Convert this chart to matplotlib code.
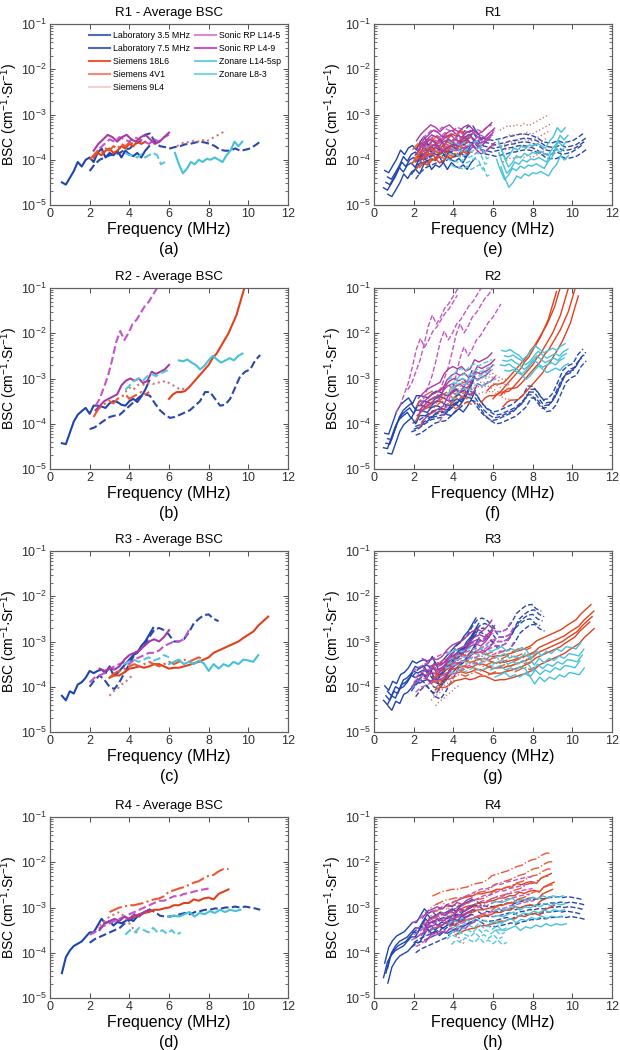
import numpy as np
import matplotlib
matplotlib.use("Agg")
import matplotlib.pyplot as plt
from matplotlib.lines import Line2D
from matplotlib.ticker import LogLocator, NullFormatter

plt.rcParams["font.family"] = ["Liberation Sans", "DejaVu Sans"]
plt.rcParams["mathtext.default"] = "regular"

# ── Transducers ────────────────────────────────────────────────
NAMES = ["Laboratory 3.5 MHz", "Laboratory 7.5 MHz", "Siemens 18L6",
         "Siemens 4V1", "Siemens 9L4", "Sonic RP L14-5", "Sonic RP L4-9",
         "Zonare L14-5sp", "Zonare L8-3"]
COLORS = ["#1f44b0", "#2a48aa", "#e2401c", "#e65a34", "#c87a78",
          "#c455c4", "#a83aa8", "#45c2d8", "#55c8e0"]
LEGEND_COLORS = ["#4a6cc4", "#5268c0", "#ee5a3a", "#f48a70", "#f4d0d0",
                 "#dc8ad4", "#c45ac0", "#6ad0ea", "#7ad6ec"]
STYLES = ["-", "--", "-", "-.", ":", "--", "-", "-", "--"]

# ── Average BSC, log10(cm^-1 Sr^-1), frequency span (MHz) ──────
R1_FREQ = [(0.6, 5.0), (2.0, 10.6), (2.2, 4.8), (2.0, 4.6), (6.4, 8.9),
           (2.5, 6.0), (2.2, 6.0), (6.3, 9.7), (3.8, 5.8)]
R1_BSC = [
    [-4.50, -4.55, -4.40, -4.25, -4.05, -4.15, -4.00, -3.95, -4.05, -3.85, -3.75, -3.95,
     -3.85, -3.90, -3.80, -3.95, -3.80, -3.88, -3.92, -3.85, -3.95, -3.80, -3.70],
    [-4.25, -4.10, -4.00, -3.95, -3.90, -3.88, -3.85, -3.78, -3.75, -3.65, -3.60, -3.45,
     -3.42, -3.60, -3.70, -3.72, -3.75, -3.72, -3.70, -3.66, -3.65, -3.62, -3.60, -3.62,
     -3.65, -3.70, -3.78, -3.80, -3.80, -3.75, -3.80, -3.78, -3.75, -3.68, -3.60],
    [-3.95, -3.85, -3.90, -3.80, -3.75, -3.85, -3.80, -3.70, -3.75, -3.65, -3.70, -3.60,
     -3.65, -3.60],
    [-4.00, -3.90, -3.80, -3.85, -3.75, -3.80, -3.70, -3.75, -3.65, -3.70, -3.62, -3.65,
     -3.58, -3.60],
    [-3.70, -3.65, -3.60, -3.62, -3.58, -3.60, -3.55, -3.60, -3.55, -3.50, -3.45, -3.40,
     -3.35],
    [-3.75, -3.65, -3.55, -3.60, -3.50, -3.55, -3.60, -3.50, -3.55, -3.60, -3.65, -3.55,
     -3.60, -3.50, -3.45],
    [-3.80, -3.65, -3.55, -3.45, -3.50, -3.60, -3.50, -3.45, -3.55, -3.60, -3.50, -3.45,
     -3.55, -3.65, -3.60, -3.50, -3.40],
    [-3.85, -4.10, -4.30, -4.20, -4.05, -4.10, -4.00, -4.05, -3.98, -4.00, -3.95, -4.00,
     -4.05, -3.90, -3.80, -3.60, -3.70, -3.60],
    [-3.85, -3.90, -3.90, -3.95, -3.88, -3.95, -3.90, -3.85, -3.90, -4.10, -4.05],
]

R2_FREQ = [(0.6, 5.0), (2.0, 10.6), (6.0, 9.8), (2.2, 5.0), (3.8, 6.8),
           (2.3, 5.4), (2.3, 6.0), (6.5, 9.7), (3.8, 6.0)]
R2_BSC = [
    [-4.43, -4.45, -4.20, -3.95, -3.80, -3.72, -3.65, -3.78, -3.60, -3.60, -3.62, -3.65,
     -3.55, -3.50, -3.52, -3.58, -3.60, -3.50, -3.45, -3.52, -3.40, -3.25, -3.05],
    [-4.12, -4.08, -4.00, -3.92, -3.85, -3.82, -3.80, -3.70, -3.60, -3.50, -3.40, -3.35,
     -3.38, -3.55, -3.70, -3.80, -3.87, -3.85, -3.80, -3.75, -3.70, -3.60, -3.50, -3.30,
     -3.30, -3.45, -3.60, -3.58, -3.45, -3.20, -2.95, -2.85, -2.80, -2.60, -2.48],
    [-3.45, -3.35, -3.30, -3.30, -3.28, -3.20, -3.10, -3.00, -2.90, -2.80, -2.70, -2.55,
     -2.45, -2.30, -2.15, -2.00, -1.80, -1.60, -1.30, -1.00],
    [-3.85, -3.70, -3.60, -3.55, -3.50, -3.55, -3.45, -3.40, -3.35, -3.45, -3.40, -3.35,
     -3.30, -3.35, -3.30],
    [-3.30, -3.20, -3.25, -3.15, -3.12, -3.15, -3.10, -3.12, -3.08, -3.10, -3.05, -3.10,
     -3.15, -3.20, -3.25, -3.22],
    [-3.60, -3.45, -3.20, -2.95, -2.60, -2.20, -1.95, -2.15, -2.00, -1.80, -1.70, -1.55,
     -1.40, -1.30, -1.15, -1.00],
    [-3.70, -3.60, -3.50, -3.45, -3.40, -3.35, -3.15, -3.05, -3.00, -3.05, -3.00, -3.10,
     -3.05, -2.85, -2.90, -2.85, -2.80, -2.70],
    [-2.60, -2.62, -2.58, -2.65, -2.70, -2.80, -2.72, -2.60, -2.50, -2.58, -2.65, -2.60,
     -2.55, -2.60, -2.50, -2.45],
    [-3.25, -3.15, -3.05, -3.00, -3.05, -2.95, -2.90, -2.95, -2.88, -2.85, -2.80],
]

R3_FREQ = [(0.6, 5.2), (2.0, 8.5), (3.0, 11.0), (3.0, 8.0), (3.0, 4.2),
           (2.0, 7.0), (2.5, 6.0), (6.0, 10.5), (3.7, 6.0)]
R3_BSC = [
    [-4.20, -4.30, -4.10, -4.15, -3.95, -3.90, -3.80, -3.65, -3.70, -3.65, -3.62, -3.70,
     -3.55, -3.75, -3.70, -3.60, -3.50, -3.40, -3.30, -3.25, -3.10, -3.00, -2.85, -2.70],
    [-4.00, -3.85, -3.75, -3.85, -4.00, -4.05, -3.90, -3.70, -3.50, -3.30, -3.20, -3.10,
     -2.90, -2.75, -2.70, -2.75, -2.85, -3.00, -3.00, -2.95, -2.80, -2.60, -2.50, -2.42,
     -2.40, -2.50, -2.55],
    [-3.80, -3.75, -3.75, -3.68, -3.60, -3.58, -3.55, -3.58, -3.55, -3.50, -3.50, -3.55,
     -3.60, -3.58, -3.58, -3.55, -3.52, -3.48, -3.45, -3.40, -3.35, -3.25, -3.20, -3.15,
     -3.10, -3.05, -3.00, -2.92, -2.85, -2.78, -2.65, -2.55, -2.45],
    [-3.80, -3.70, -3.65, -3.60, -3.55, -3.50, -3.55, -3.50, -3.45, -3.50, -3.55, -3.50,
     -3.45, -3.50, -3.45, -3.40, -3.45, -3.40, -3.35, -3.40, -3.35],
    [-4.20, -4.10, -4.05, -3.95, -3.90, -3.80, -3.75],
    [-3.90, -3.80, -3.75, -3.70, -3.60, -3.55, -3.50, -3.45, -3.50, -3.40, -3.35, -3.30,
     -3.25, -3.25, -3.20, -3.10, -3.05, -3.00, -3.00, -2.95, -2.75],
    [-3.60, -3.65, -3.60, -3.62, -3.55, -3.40, -3.30, -3.25, -3.20, -3.10, -3.00, -2.95,
     -3.00, -2.90, -2.75],
    [-3.50, -3.45, -3.40, -3.50, -3.45, -3.50, -3.42, -3.48, -3.65, -3.50, -3.60, -3.50,
     -3.55, -3.45, -3.50, -3.40, -3.42, -3.45, -3.30],
    [-3.50, -3.45, -3.40, -3.45, -3.40, -3.35, -3.42, -3.38, -3.30, -3.35],
]

R4_FREQ = [(0.6, 5.0), (2.0, 10.6), (4.0, 9.0), (3.0, 9.0), (2.5, 4.5),
           (2.0, 8.0), (2.5, 5.0), (6.0, 9.6), (3.8, 6.6)]
R4_BSC = [
    [-4.45, -4.10, -3.95, -3.85, -3.80, -3.75, -3.65, -3.55, -3.55, -3.40, -3.25, -3.35,
     -3.30, -3.40, -3.32, -3.35, -3.30, -3.25, -3.30, -3.20, -3.15, -3.10, -3.05],
    [-3.78, -3.70, -3.65, -3.60, -3.55, -3.50, -3.45, -3.35, -3.28, -3.20, -3.15, -3.10,
     -3.05, -3.10, -3.18, -3.20, -3.20, -3.18, -3.15, -3.12, -3.15, -3.10, -3.08, -3.05,
     -3.05, -3.02, -3.03, -3.00, -3.00, -2.98, -3.00, -2.98, -3.00, -3.02, -3.05],
    [-3.25, -3.20, -3.15, -3.12, -3.10, -3.05, -3.05, -3.02, -3.00, -2.95, -2.95, -2.90,
     -2.90, -2.82, -2.85, -2.80, -2.78, -2.82, -2.70, -2.65, -2.60],
    [-3.10, -3.05, -3.00, -2.98, -2.95, -2.95, -2.92, -2.90, -2.85, -2.82, -2.80, -2.75,
     -2.65, -2.62, -2.58, -2.55, -2.50, -2.45, -2.42, -2.35, -2.30, -2.28, -2.20, -2.15,
     -2.15],
    [-3.40, -3.30, -3.20, -3.15, -3.10, -3.20, -3.35, -3.50, -3.60],
    [-3.60, -3.55, -3.45, -3.40, -3.35, -3.30, -3.25, -3.20, -3.15, -3.10, -3.05, -3.00,
     -2.95, -2.90, -2.85, -2.85, -2.80, -2.75, -2.75, -2.70, -2.68, -2.65, -2.62, -2.60,
     -2.58],
    [-3.50, -3.35, -3.30, -3.25, -3.30, -3.20, -3.25, -3.15, -3.20, -3.10, -3.05],
    [-3.20, -3.18, -3.20, -3.15, -3.10, -3.20, -3.12, -3.15, -3.08, -3.12, -3.05, -3.10,
     -3.05, -3.08, -3.05],
    [-3.60, -3.50, -3.55, -3.45, -3.50, -3.55, -3.45, -3.55, -3.50, -3.58, -3.50, -3.60,
     -3.55],
]

# ── Individual acquisitions (right column): offsets from average ─
REP_DLOG = [-0.22, -0.10, 0.00, 0.10, 0.22]       # log10 offset per repeat
REP_DF = [0.10, -0.12, 0.00, 0.08, -0.06]         # MHz shift per repeat
R1_SPREAD = [1.2, 0.8, 1.0, 1.0, 1.6, 1.0, 1.0, 1.4, 1.2]
R2_SPREAD = [1.0, 0.6, 0.8, 1.0, 1.0, 1.6, 1.2, 1.0, 1.0]
R3_SPREAD = [1.0, 1.0, 1.2, 1.0, 1.0, 1.0, 1.0, 1.3, 1.0]
R4_SPREAD = [1.0, 1.0, 1.6, 1.6, 1.0, 1.2, 1.2, 1.4, 1.0]
R1_FSHIFT = [1, 1, 1, 1, 1, 1, 1, 1, 1]
R2_FSHIFT = [1, 1, 5, 1, 1, 10, 1, 1, 1]
R3_FSHIFT = [1, 1, 1, 1, 1, 1, 1, 1, 1]
R4_FSHIFT = [1, 1, 1, 1, 1, 1, 1, 1, 1]

REGIONS = ["R1", "R2", "R3", "R4"]
FREQS = [R1_FREQ, R2_FREQ, R3_FREQ, R4_FREQ]
BSCS = [R1_BSC, R2_BSC, R3_BSC, R4_BSC]
SPREADS = [R1_SPREAD, R2_SPREAD, R3_SPREAD, R4_SPREAD]
FSHIFTS = [R1_FSHIFT, R2_FSHIFT, R3_FSHIFT, R4_FSHIFT]
LEFT_TAGS = ["(a)", "(b)", "(c)", "(d)"]
RIGHT_TAGS = ["(e)", "(f)", "(g)", "(h)"]

# ── Layout (pixels on a 620x1050 canvas) ───────────────────────
W, H = 620, 1050
AX_W, AX_H = 238, 181
LEFT_X, RIGHT_X = 50, 374
TOPS = [24, 288, 551, 817]


def style_axes(ax, title, tag):
    ax.set_yscale("log")
    ax.set_xlim(0, 12)
    ax.set_ylim(1e-5, 1e-1)
    ax.set_xticks(range(0, 13, 2))
    ax.yaxis.set_major_locator(LogLocator(base=10, numticks=10))
    ax.yaxis.set_minor_locator(LogLocator(base=10, subs=np.arange(2, 10), numticks=20))
    ax.yaxis.set_minor_formatter(NullFormatter())
    ax.tick_params(which="both", direction="in", top=True, right=True,
                   colors="#303030", labelsize=9, pad=2.5)
    ax.tick_params(which="major", length=3.5, width=0.6)
    ax.tick_params(which="minor", length=2, width=0.5)
    for sp in ax.spines.values():
        sp.set_color("#606060")
        sp.set_linewidth(0.9)
    ax.set_title(title, fontsize=9.5, pad=6)
    ax.set_xlabel("Frequency (MHz)", fontsize=11.5, labelpad=1)
    ax.set_ylabel("BSC (cm$^{-1}$·Sr$^{-1}$)", fontsize=10)
    ax.yaxis.set_label_coords(-0.125, 0.5)
    ax.text(0.5, -0.245, tag, transform=ax.transAxes, ha="center",
            va="center", fontsize=11.5)


fig = plt.figure(figsize=(W / 100, H / 100), dpi=100)

for r in range(4):
    bottom = 1 - (TOPS[r] + AX_H) / H
    ax_l = fig.add_axes([LEFT_X / W, bottom, AX_W / W, AX_H / H])
    ax_r = fig.add_axes([RIGHT_X / W, bottom, AX_W / W, AX_H / H])

    for k in range(len(NAMES)):
        f0, f1 = FREQS[r][k]
        logb = np.array(BSCS[r][k])
        freq = np.linspace(f0, f1, len(logb))
        ax_l.plot(freq, 10 ** logb, STYLES[k], color=COLORS[k], lw=1.5)
        for dl, df in zip(REP_DLOG, REP_DF):
            ax_r.plot(freq + df * FSHIFTS[r][k],
                      10 ** (logb + dl * SPREADS[r][k]),
                      STYLES[k], color=COLORS[k], lw=1.0)

    style_axes(ax_l, f"{REGIONS[r]} - Average BSC", LEFT_TAGS[r])
    style_axes(ax_r, REGIONS[r], RIGHT_TAGS[r])

    if r == 0:
        handles = [Line2D([], [], color=c, lw=1.5) for c in LEGEND_COLORS]
        ax_l.legend(handles, NAMES, ncol=2, loc="upper right",
                    bbox_to_anchor=(1.0, 1.0), frameon=False, fontsize=6.3,
                    handlelength=2.4, handletextpad=0.4, columnspacing=0.5,
                    labelspacing=0.45, borderaxespad=0.4)

fig.savefig("out.png", dpi=100)
plt.close(fig)
